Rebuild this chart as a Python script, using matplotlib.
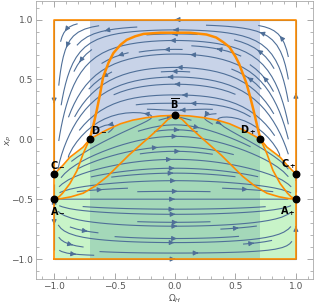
import numpy as np
import matplotlib.pyplot as plt

# fixed points (Omega_H, x_P)
pt_names = [r'$\mathbf{A_-}$', r'$\mathbf{C_-}$', r'$\mathbf{D_-}$', r'$\overline{\mathbf{B}}$',
            r'$\mathbf{D_+}$', r'$\mathbf{C_+}$', r'$\mathbf{A_+}$']
pt_om = [-1.0, -1.0, -0.707, 0.0, 0.707, 1.0, 1.0]
pt_x = [-0.5, -0.29, 0.0, 0.2, 0.0, -0.29, -0.5]

# orange separatrices
top_om = [-0.707, -0.675, -0.648, -0.62, -0.595, -0.55, -0.51, -0.45, -0.40, -0.33, -0.26, -0.12, 0.0,
          0.12, 0.26, 0.34, 0.40, 0.45, 0.50, 0.53, 0.56, 0.59, 0.62, 0.65, 0.68, 0.707]
top_x = [0.0, 0.12, 0.24, 0.38, 0.52, 0.64, 0.72, 0.79, 0.83, 0.86, 0.88, 0.89, 0.89,
         0.89, 0.875, 0.85, 0.81, 0.77, 0.69, 0.63, 0.55, 0.47, 0.36, 0.24, 0.11, 0.0]

bnd_om = [-1.0, -0.93, -0.87, -0.76, -0.707, -0.6, -0.54, -0.45, -0.35, -0.24, -0.12, 0.0,
          0.12, 0.24, 0.35, 0.45, 0.54, 0.6, 0.707, 0.76, 0.87, 0.93, 1.0]
bnd_x = [-0.29, -0.22, -0.15, -0.065, 0.0, 0.06, 0.09, 0.13, 0.16, 0.18, 0.195, 0.2,
         0.195, 0.18, 0.16, 0.13, 0.09, 0.06, 0.0, -0.065, -0.15, -0.22, -0.29]

ad_om = [-1.0, -0.96, -0.93, -0.87, -0.81, -0.76, -0.707]
ad_x = [-0.5, -0.48, -0.45, -0.37, -0.26, -0.12, 0.0]

arch_om = [-1.0, -0.94, -0.86, -0.76, -0.66, -0.56, -0.47, -0.38, -0.29, -0.2, -0.124, -0.06, 0.0,
           0.06, 0.124, 0.2, 0.29, 0.38, 0.47, 0.56, 0.66, 0.76, 0.86, 0.94, 1.0]
arch_x = [-0.5, -0.495, -0.48, -0.45, -0.39, -0.31, -0.22, -0.13, -0.05, 0.03, 0.1, 0.165, 0.2,
          0.165, 0.1, 0.03, -0.05, -0.13, -0.22, -0.31, -0.39, -0.45, -0.48, -0.495, -0.5]

band = 0.707

# vector field built from the fixed point locations
om = np.linspace(-1, 1, 200)
xx = np.linspace(-1, 1, 200)
OM, XX = np.meshgrid(om, xx)
h = 0.2 - 0.31 * OM**2 - 0.18 * OM**4
U = (1 - OM**2) * (h - XX)
V = OM * (1 - XX**2) * (XX + 0.5) * (XX - 0.29 + 0.58 * OM**2)

fig = plt.figure(figsize=(3.16, 3.07), dpi=100)
ax = fig.add_axes([0.114, 0.091, 0.876, 0.907])

ax.fill_between([-band, band], -1, 1, color='#c8d3e8', lw=0, zorder=0)
ax.fill_between(bnd_om, -1, bnd_x, color='#62e262', alpha=0.35, lw=0, zorder=1)

ax.streamplot(OM, XX, U, V, density=1.1, color='#4f6f98', linewidth=0.8,
              arrowsize=0.7, zorder=2)

ax.plot([-1, 1, 1, -1, -1], [-1, -1, 1, 1, -1], color='#ff8c00', lw=1.2, zorder=3)
ax.plot(top_om, top_x, color='#ff8c00', lw=1.8, zorder=3)
ax.plot(bnd_om, bnd_x, color='#ff8c00', lw=1.2, zorder=3)
ax.plot(ad_om, ad_x, color='#ff8c00', lw=1.2, zorder=3)
ax.plot([-o for o in ad_om], ad_x, color='#ff8c00', lw=1.2, zorder=3)
ax.plot(arch_om, arch_x, color='#ff8c00', lw=1.2, zorder=3)

ax.scatter(pt_om, pt_x, s=22, color='black', zorder=4)
offs = [(0.03, -0.1), (0.03, 0.08), (0.08, 0.08), (0.0, 0.1), (-0.1, 0.08), (-0.06, 0.08), (-0.07, -0.1)]
for name, o, x, d in zip(pt_names, pt_om, pt_x, offs):
    ax.text(o + d[0], x + d[1], name, fontsize=7, ha='center', va='center', zorder=5)

ax.set_xlim(-1.15, 1.14)
ax.set_ylim(-1.167, 1.158)
ax.set_xticks([-1.0, -0.5, 0.0, 0.5, 1.0])
ax.set_yticks([-1.0, -0.5, 0.0, 0.5, 1.0])
ax.set_xticklabels(['\u22121.0', '\u22120.5', '0.0', '0.5', '1.0'])
ax.set_yticklabels(['\u22121.0', '\u22120.5', '0.0', '0.5', '1.0'])
ax.set_xticks(np.arange(-1.1, 1.15, 0.1), minor=True)
ax.set_yticks(np.arange(-1.1, 1.15, 0.1), minor=True)
ax.tick_params(which='both', direction='in', top=True, right=True, colors='#999999',
               labelcolor='#555555', labelsize=6.5, pad=2)
ax.tick_params(which='major', length=4, width=0.6)
ax.tick_params(which='minor', length=2, width=0.5)
for s in ax.spines.values():
    s.set_color('#aaaaaa')
    s.set_linewidth(0.6)
ax.set_xlabel(r'$\Omega_H$', fontsize=6.5, color='#555555')
ax.set_ylabel(r'$x_P$', fontsize=6.5, color='#555555')
ax.xaxis.set_label_coords(0.5, -0.05)
ax.yaxis.set_label_coords(-0.08, 0.5)

fig.savefig('out.png', dpi=100)
